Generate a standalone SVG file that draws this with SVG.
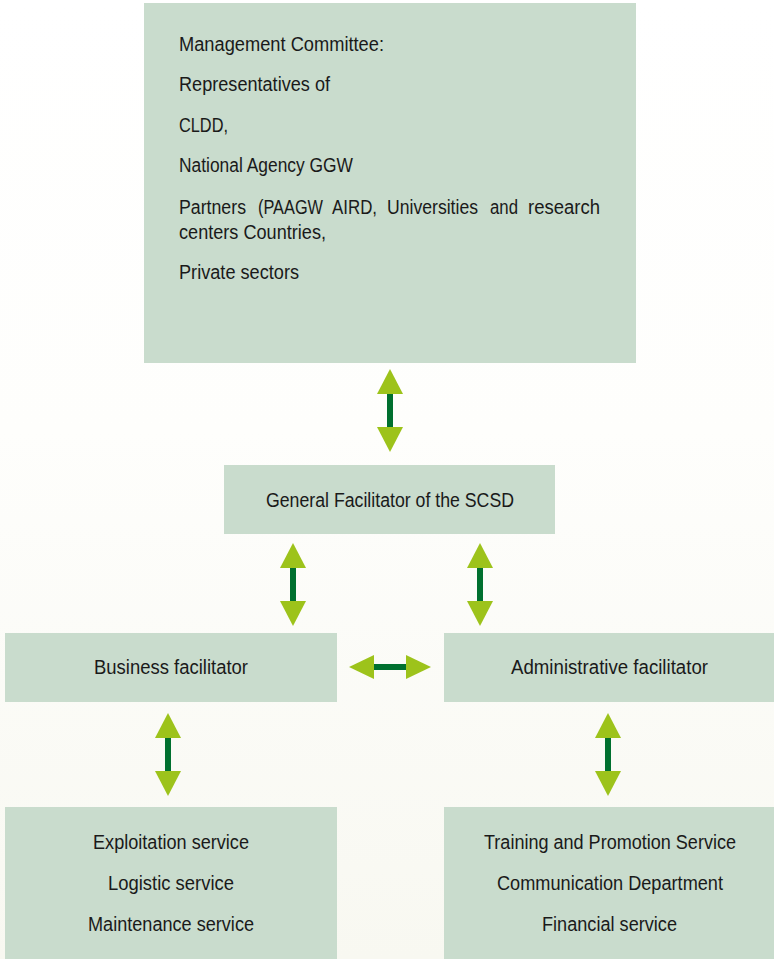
<svg xmlns="http://www.w3.org/2000/svg" width="774" height="959" viewBox="0 0 774 959">
<defs>
<linearGradient id="bg" x1="0" y1="0" x2="0" y2="1">
<stop offset="0" stop-color="#ffffff"/>
<stop offset="0.45" stop-color="#fefefc"/>
<stop offset="1" stop-color="#f8f8f1"/>
</linearGradient>
<g id="vArrow">
<rect x="-3" y="24" width="6" height="35" class="shaft"/>
<polygon points="0,0 13,25 -13,25" class="head"/>
<polygon points="0,83 13,58 -13,58" class="head"/>
</g>
</defs>
<style>
.box{fill:#c9dccd}
.t{font-family:"Liberation Sans",Arial,sans-serif;font-size:20px;fill:#1a1a1a}
.c{text-anchor:middle}
.shaft{fill:#00702f}
.head{fill:#9dc31b}
</style>
<rect width="774" height="959" fill="url(#bg)"/>
<g id="management">
<rect class="box" x="144" y="3" width="492" height="360"/>
<text class="t" x="179" y="51" textLength="205" lengthAdjust="spacingAndGlyphs">Management Committee:</text>
<text class="t" x="179" y="91" textLength="151" lengthAdjust="spacingAndGlyphs">Representatives of</text>
<text class="t" x="179" y="132" textLength="49" lengthAdjust="spacingAndGlyphs">CLDD,</text>
<text class="t" x="179" y="172" textLength="174" lengthAdjust="spacingAndGlyphs">National Agency GGW</text>
<text class="t" x="179" y="214" textLength="67" lengthAdjust="spacingAndGlyphs">Partners</text>
<text class="t" x="258" y="214" textLength="65" lengthAdjust="spacingAndGlyphs">(PAAGW</text>
<text class="t" x="332" y="214" textLength="45" lengthAdjust="spacingAndGlyphs">AIRD,</text>
<text class="t" x="387" y="214" textLength="91" lengthAdjust="spacingAndGlyphs">Universities</text>
<text class="t" x="490" y="214" textLength="28" lengthAdjust="spacingAndGlyphs">and</text>
<text class="t" x="528" y="214" textLength="72" lengthAdjust="spacingAndGlyphs">research</text>
<text class="t" x="179" y="239" textLength="147" lengthAdjust="spacingAndGlyphs">centers Countries,</text>
<text class="t" x="179" y="279" textLength="120" lengthAdjust="spacingAndGlyphs">Private sectors</text>
</g>
<g id="general">
<rect class="box" x="224" y="465" width="331" height="69"/>
<text class="t" x="266" y="507" textLength="248" lengthAdjust="spacingAndGlyphs">General Facilitator of the SCSD</text>
</g>
<g id="business">
<rect class="box" x="5" y="633" width="332" height="69"/>
<text class="t" x="94" y="674" textLength="154" lengthAdjust="spacingAndGlyphs">Business facilitator</text>
</g>
<g id="administrative">
<rect class="box" x="444" y="633" width="330" height="69"/>
<text class="t" x="511" y="674" textLength="197" lengthAdjust="spacingAndGlyphs">Administrative facilitator</text>
</g>
<g id="services-left">
<rect class="box" x="5" y="807" width="332" height="152"/>
<text class="t" x="93" y="849" textLength="156" lengthAdjust="spacingAndGlyphs">Exploitation service</text>
<text class="t" x="108" y="890" textLength="126" lengthAdjust="spacingAndGlyphs">Logistic service</text>
<text class="t" x="88" y="931" textLength="166" lengthAdjust="spacingAndGlyphs">Maintenance service</text>
</g>
<g id="services-right">
<rect class="box" x="444" y="807" width="330" height="152"/>
<text class="t" x="484" y="849" textLength="252" lengthAdjust="spacingAndGlyphs">Training and Promotion Service</text>
<text class="t" x="497" y="890" textLength="226" lengthAdjust="spacingAndGlyphs">Communication Department</text>
<text class="t" x="542" y="931" textLength="135" lengthAdjust="spacingAndGlyphs">Financial service</text>
</g>
<g id="connectors">
<use href="#vArrow" x="390" y="369"/>
<use href="#vArrow" x="293" y="543"/>
<use href="#vArrow" x="480" y="543"/>
<use href="#vArrow" x="168" y="713"/>
<use href="#vArrow" x="608" y="713"/>
<rect x="372" y="664" width="36" height="6" class="shaft"/>
<polygon points="349,667 374,655 374,679" class="head"/>
<polygon points="431,667 406,655 406,679" class="head"/>
</g>
</svg>
